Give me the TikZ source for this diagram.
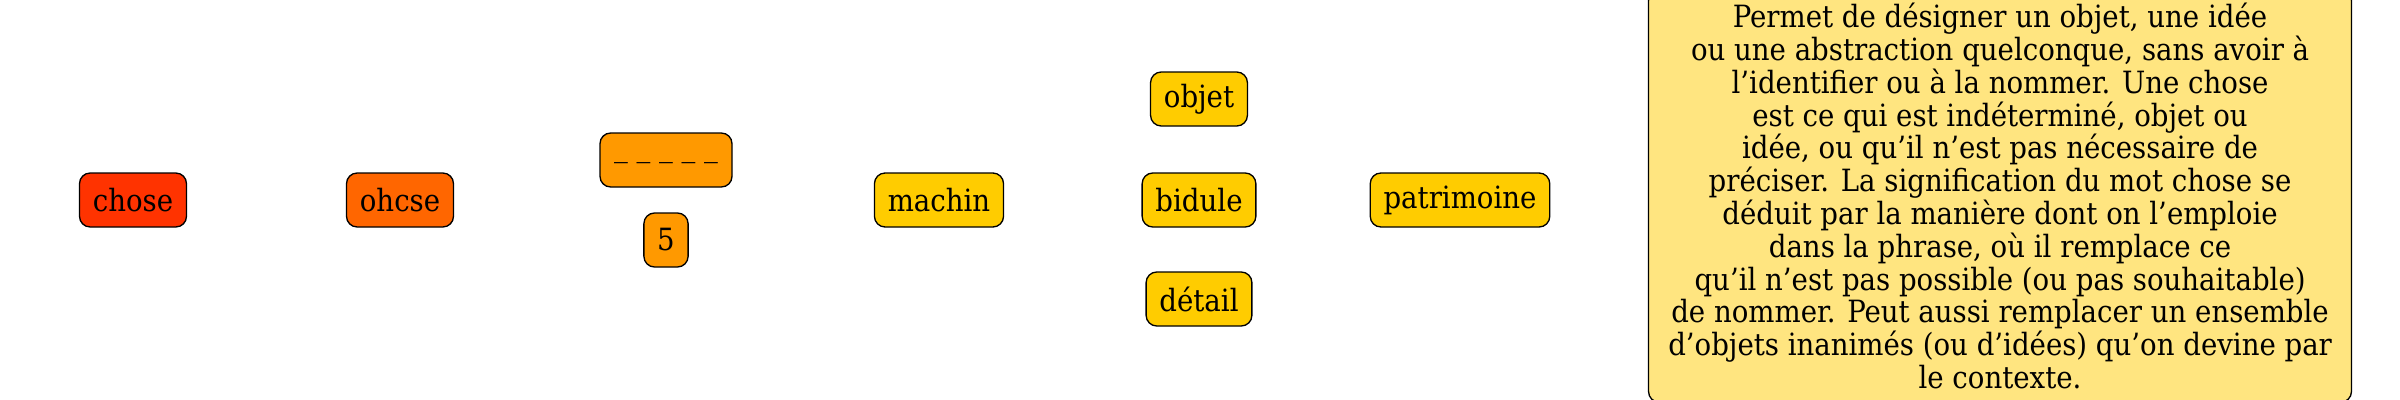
\documentclass[tikz,border=0pt]{standalone}
\usepackage{fontspec}
\setmainfont{DejaVu Serif Condensed}
\definecolor{c1}{RGB}{255,51,0}
\definecolor{c2}{RGB}{255,102,0}
\definecolor{c3}{RGB}{255,153,0}
\definecolor{c4}{RGB}{255,204,0}
\definecolor{c5}{RGB}{255,229,128}
\begin{document}
\begin{tikzpicture}[x=0.375pt,y=-0.375pt,
  wbox/.style={draw=black,line width=0.5pt,rounded corners=4pt,minimum height=20.25pt,inner xsep=5pt,font=\fontsize{11.5}{13}\selectfont},
  defbox/.style={draw=black,line width=0.5pt,rounded corners=4pt,fill=c5,align=center,inner xsep=4pt,inner ysep=5pt,font=\fontsize{11.5}{12.3}\selectfont}]
\useasboundingbox (0,0) rectangle (2400,400);
\node[wbox,fill=c1] (chose) at (133,200) {chose};
\node[wbox,fill=c2] (ohcse) at (400,200) {ohcse};
\node[wbox,fill=c3,minimum width=49.5pt] (blank) at (666,160) {\_ \_ \_ \_ \_};
\node[wbox,fill=c3] (five) at (666,240) {5};
\node[wbox,fill=c4] (machin) at (939,200) {machin};
\node[wbox,fill=c4] (objet) at (1199,99) {objet};
\node[wbox,fill=c4] (bidule) at (1199,200) {bidule};
\node[wbox,fill=c4] (detail) at (1199,299) {détail};
\node[wbox,fill=c4] (patri) at (1460,200) {patrimoine};
\node[defbox,minimum width=263.6pt] (def) at (2000,196) {Permet de désigner un objet, une idée\\
ou une abstraction quelconque, sans avoir à\\
l’identifier ou à la nommer. Une chose\\
est ce qui est indéterminé, objet ou\\
idée, ou qu’il n’est pas nécessaire de\\
préciser. La signification du mot chose se\\
déduit par la manière dont on l’emploie\\
dans la phrase, où il remplace ce\\
qu’il n’est pas possible (ou pas souhaitable)\\
de nommer. Peut aussi remplacer un ensemble\\
d’objets inanimés (ou d’idées) qu’on devine par\\
le contexte.};
\end{tikzpicture}
\end{document}
